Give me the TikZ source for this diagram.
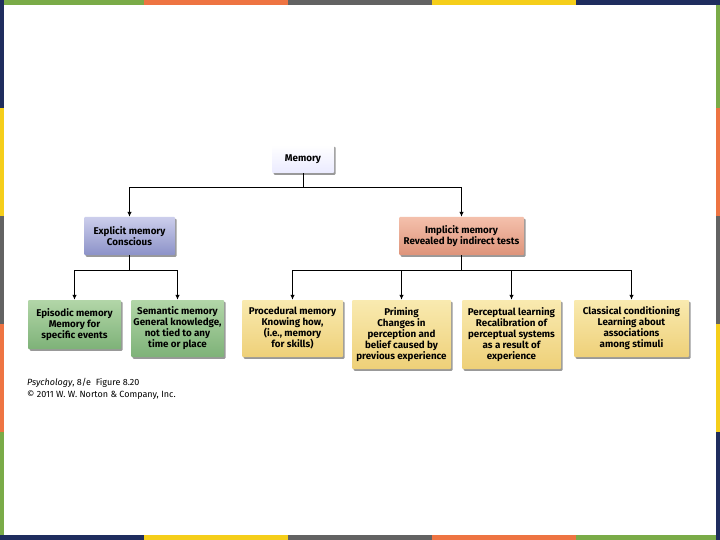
\documentclass[tikz,border=0pt]{standalone}
\usepackage{fontspec}
\setmainfont{Fira Sans}
\usetikzlibrary{shadows,arrows.meta}
\definecolor{sgreen}{HTML}{7AAB48}
\definecolor{sorange}{HTML}{EE7442}
\definecolor{sgray}{HTML}{636363}
\definecolor{syellow}{HTML}{F5CE1A}
\definecolor{snavy}{HTML}{1F2D5E}
\tikzset{
  box/.style={draw=none, rounded corners=1pt, align=center, inner sep=1pt,
    font=\fontsize{9.8}{11}\selectfont\bfseries,
    drop shadow={shadow xshift=1.6pt,shadow yshift=-1.8pt,opacity=.4,fill=black}},
  membox/.style={box, top color=white, bottom color=blue!8!white},
  explbox/.style={box, top color={rgb,255:red,204;green,206;blue,236}, bottom color={rgb,255:red,140;green,146;blue,200}},
  implbox/.style={box, top color={rgb,255:red,244;green,192;blue,172}, bottom color={rgb,255:red,222;green,148;blue,122}},
  greenbox/.style={box, top color={rgb,255:red,178;green,214;blue,168}, bottom color={rgb,255:red,126;green,178;blue,120}},
  yelbox/.style={box, top color={rgb,255:red,249;green,234;blue,176}, bottom color={rgb,255:red,238;green,208;blue,120}},
  conn/.style={line width=1pt, black},
  arr/.style={conn, -{Latex[length=5pt,width=4.5pt]}}
}
\begin{document}
\begin{tikzpicture}[x=1pt,y=-1pt]
\useasboundingbox (0,0) rectangle (720,540);
\fill[white] (0,0) rectangle (720,540);
% border stripes
\fill[sgreen]  (0,0) rectangle (144,5);
\fill[sorange] (144,0) rectangle (288,5);
\fill[sgray]   (288,0) rectangle (432,5);
\fill[syellow] (432,0) rectangle (576,5);
\fill[snavy]   (576,0) rectangle (720,5);
\fill[snavy]   (0,535) rectangle (144,540);
\fill[syellow] (144,535) rectangle (288,540);
\fill[sgray]   (288,535) rectangle (432,540);
\fill[sorange] (432,535) rectangle (576,540);
\fill[sgreen]  (576,535) rectangle (720,540);
\fill[snavy]   (0,0) rectangle (4,108);
\fill[syellow] (0,108) rectangle (4,216);
\fill[sgray]   (0,216) rectangle (4,324);
\fill[sorange] (0,324) rectangle (4,432);
\fill[sgreen]  (0,432) rectangle (4,535);
\fill[sgreen]  (716,5) rectangle (720,108);
\fill[sorange] (716,108) rectangle (720,216);
\fill[sgray]   (716,216) rectangle (720,324);
\fill[syellow] (716,324) rectangle (720,432);
\fill[snavy]   (716,432) rectangle (720,540);

% nodes
\node[membox, minimum width=62pt, minimum height=28pt] (mem) at (303,159) {Memory};
\node[explbox, minimum width=91pt, minimum height=38pt] (expl) at (129.5,236) {Explicit memory\\Conscious};
\node[implbox, minimum width=125pt, minimum height=38pt] (impl) at (461.5,236) {Implicit memory\\Revealed by indirect tests};

\node[greenbox, minimum width=93pt, minimum height=49pt] (epi) at (74.5,324.5) {Episodic memory\\Memory for\\specific events};
\node[greenbox, minimum width=93pt, minimum height=57pt] (sem) at (177.5,328.5) {Semantic memory\\General knowledge,\\not tied to any\\time or place};
\node[yelbox, minimum width=101pt, minimum height=57pt] (proc) at (292.5,328.5) {Procedural memory\\Knowing how,\\(i.e., memory\\for skills)};
\node[yelbox, minimum width=99pt, minimum height=69pt] (prim) at (401.5,334.5) {Priming\\Changes in\\perception and\\belief caused by\\previous experience};
\node[yelbox, minimum width=99pt, minimum height=69pt] (perc) at (511.5,334.5) {Perceptual learning\\Recalibration of\\perceptual systems\\as a result of\\experience};
\node[yelbox, minimum width=115pt, minimum height=57pt] (clas) at (631.5,328.5) {Classical conditioning\\Learning about\\associations\\among stimuli};

% connectors
\coordinate (b1) at (303,188);
\coordinate (b2) at (129.5,270);
\coordinate (b3) at (461.5,270);
\draw[conn] (mem.south) -- (b1);
\draw[arr] (b1) -| (expl.north);
\draw[arr] (b1) -| (impl.north);
\draw[conn] (expl.south) -- (b2);
\draw[arr] (b2) -| (epi.north);
\draw[arr] (b2) -| (sem.north);
\draw[conn] (impl.south) -- (b3);
\draw[arr] (b3) -| (proc.north);
\draw[arr] (b3) -| (prim.north);
\draw[arr] (b3) -| (perc.north);
\draw[arr] (b3) -| (clas.north);

% credit
\node[anchor=north west, align=left, inner sep=0pt, font=\fontsize{9}{12}\selectfont] (credit) at (27,378)
  {\textit{Psychology}, 8/e\ \ Figure 8.20\\\textcopyright\ 2011 W. W. Norton \& Company, Inc.};
\end{tikzpicture}
\end{document}
